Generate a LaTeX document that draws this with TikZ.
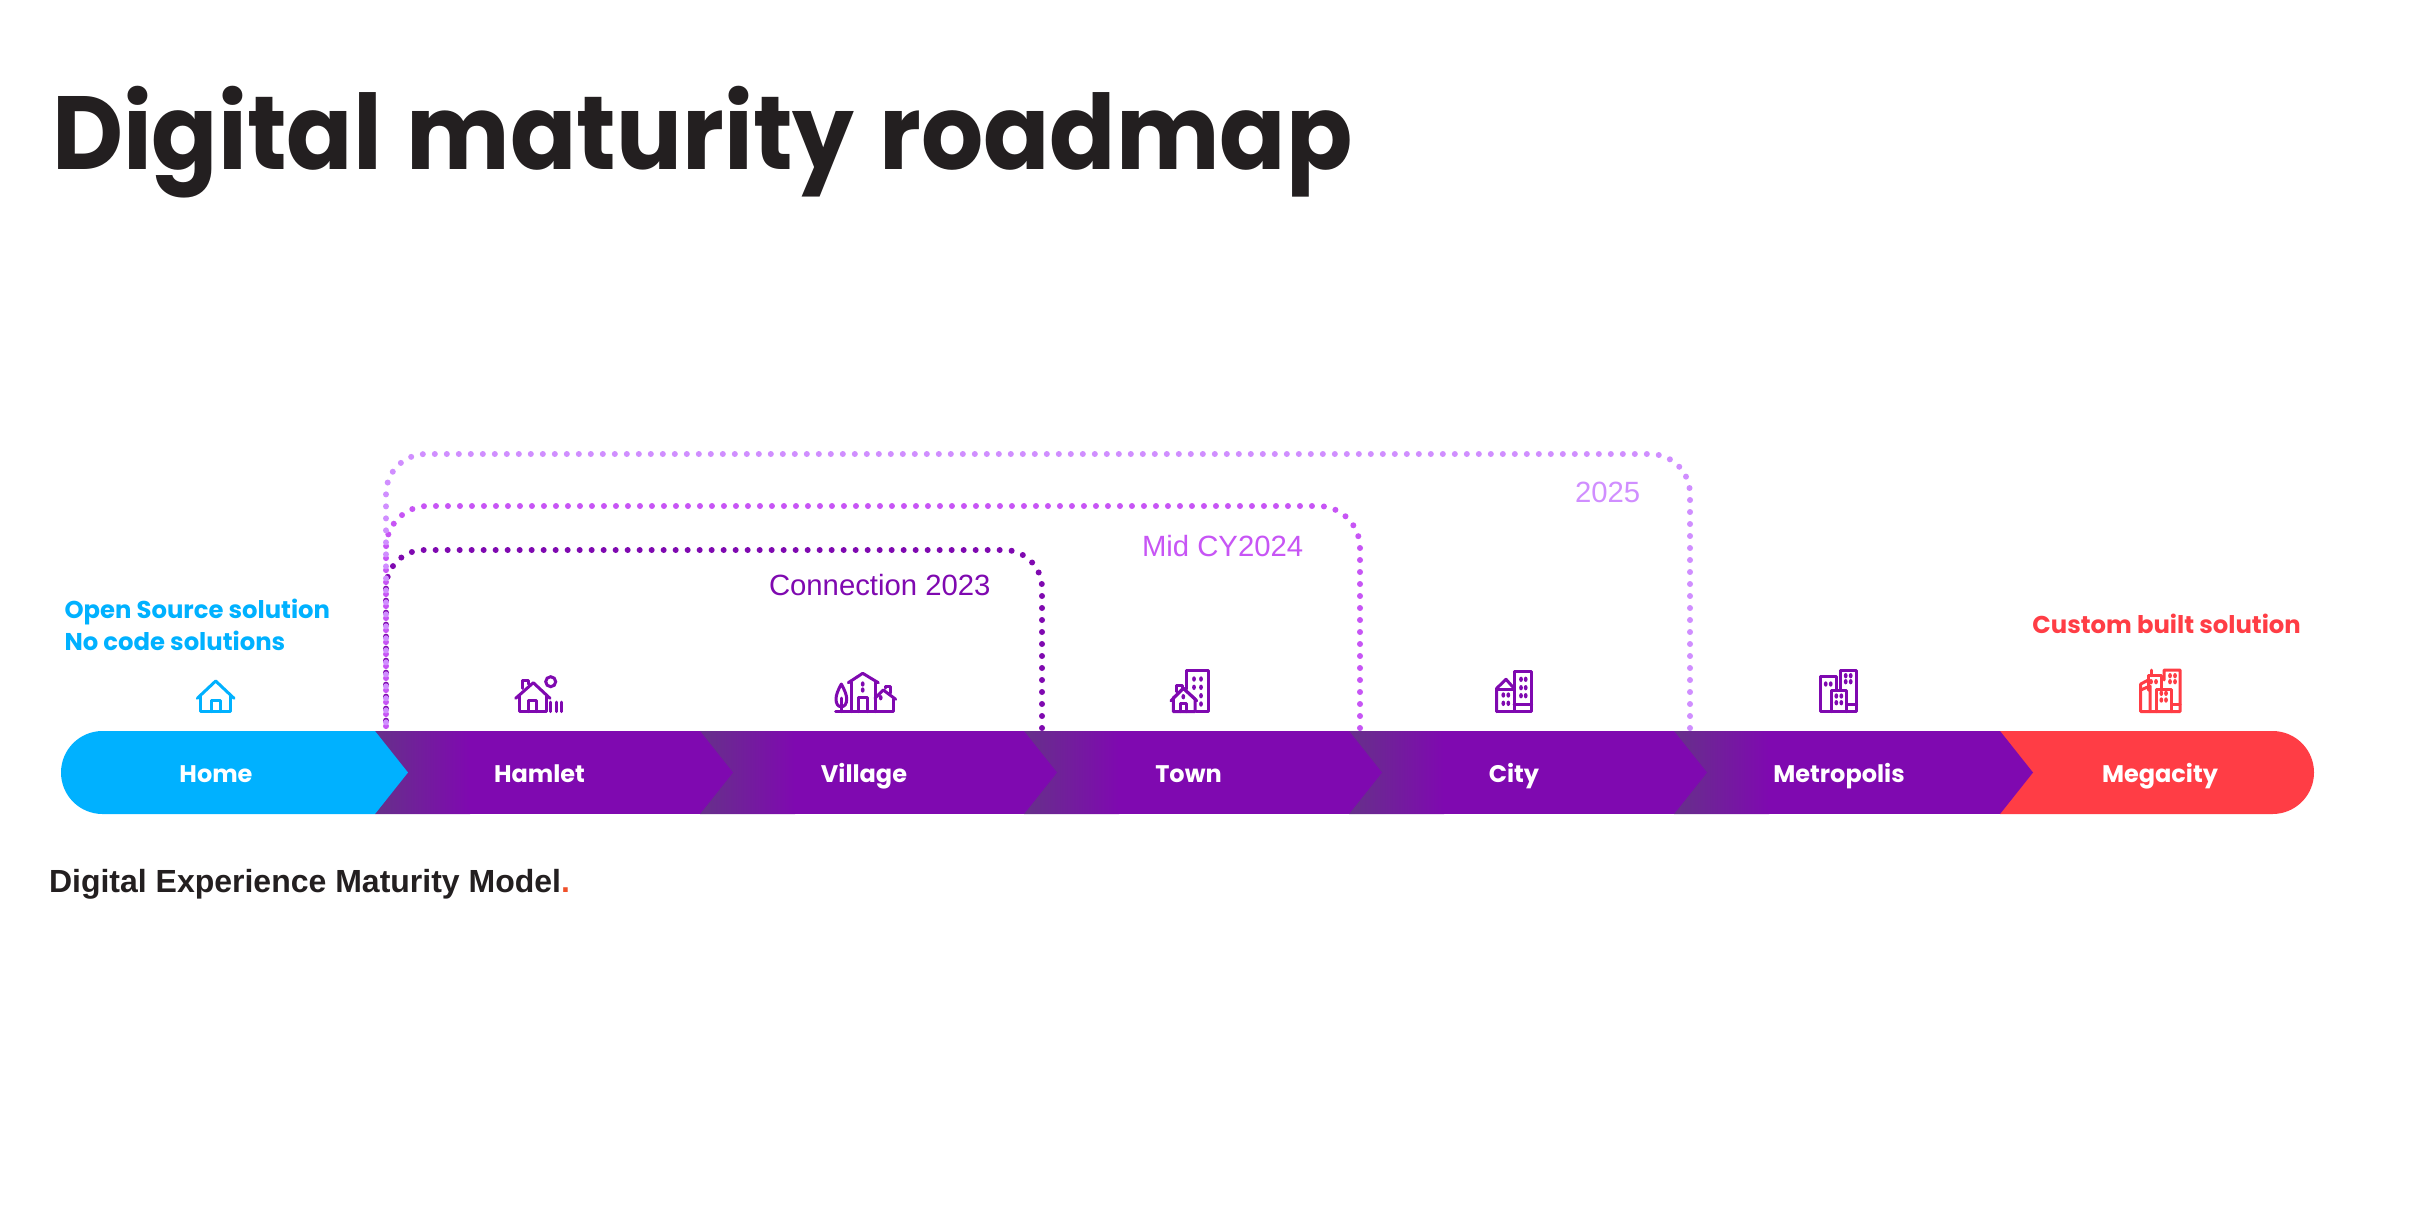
\documentclass[tikz,border=0pt]{standalone}
\usepackage{fontspec}
\setmainfont{Liberation Sans}
\newfontfamily\pop{Poppins}
\newfontfamily\popt[FakeStretch=0.94,WordSpace=1.2]{Poppins}
\definecolor{barpurple}{HTML}{7F09B0}
\definecolor{shadepurple}{HTML}{66308A}
\definecolor{homeblue}{HTML}{00B1FF}
\definecolor{megared}{HTML}{FF3D45}
\definecolor{midpurple}{HTML}{C755F5}
\definecolor{lightpurple}{HTML}{D08EFF}
\definecolor{inkdark}{HTML}{231F20}
\definecolor{dotorange}{HTML}{F0502A}
\tikzset{
  txt/.style={inner sep=0pt,outer sep=0pt,anchor=base west},
  barlabel/.style={inner sep=0pt,outer sep=0pt,anchor=base,text=white,font=\pop\bfseries\fontsize{24}{27}\selectfont},
  sidelabel/.style={txt,font=\pop\bfseries\fontsize{24.3}{27}\selectfont},
  yearlabel/.style={txt,font=\fontsize{29.3}{32}\selectfont},
  dotted line/.style={line width=6pt,line cap=round,dash pattern=on 0pt off 12pt},
  icon/.style={line width=3pt,line join=round,line cap=round,fill=white},
  iconline/.style={line width=3pt,line join=round,line cap=round},
}
\newcommand{\seg}[3]{% start, next, colour
  \begin{scope}
    \clip (#1,731) -- (#2,731) -- ($(#2,731)+(33,41.5)$) -- (#2,814) -- (#1,814) -- cycle;
    \fill[barpurple] (#1,731) rectangle (#2+40,814);
    \shade[left color=shadepurple,right color=barpurple,shading angle=90] (#1,731) rectangle (#1+95,814);
  \end{scope}}
\newcommand{\win}[3]{\fill[#3] (#1,#2) ellipse [x radius=1.9pt,y radius=2.7pt];}
\usetikzlibrary{calc}
\begin{document}
\begin{tikzpicture}[x=1pt,y=-1pt]
\useasboundingbox[fill=white] (0,0) rectangle (2417,1216);

% title
\node[txt,text=inkdark,font=\popt\bfseries\fontsize{104}{110}\selectfont] (title) at (52,169) {Digital maturity roadmap};

% bar, right to left so that each tip lies over the next segment
\fill[megared] (2000,731) -- (2272.5,731) arc[start angle=-90,end angle=90,radius=41.5] -- (2000,814) -- cycle;
\seg{1674}{2000}{}
\seg{1349}{1674}{}
\seg{1024}{1349}{}
\seg{700}{1024}{}
\seg{375}{700}{}
\fill[homeblue] (375,731) -- (408,772.5) -- (375,814) -- (102.5,814) arc[start angle=90,end angle=270,radius=41.5] -- cycle;

% bar labels
\node[barlabel] (home) at (216,782.7) {Home};
\node[barlabel] (hamlet) at (539.5,782.7) {Hamlet};
\node[barlabel] (village) at (864,782.7) {Village};
\node[barlabel] (town) at (1188.5,782.7) {Town};
\node[barlabel] (city) at (1514,782.7) {City};
\node[barlabel] (metropolis) at (1839,782.7) {Metropolis};
\node[barlabel] (megacity) at (2160,782.7) {Megacity};

% dotted brackets
\coordinate (a0) at (386,728);
\coordinate (a1) at (1042,728);
\coordinate (b1) at (1360,728);
\coordinate (c1) at (1690,728);
\draw[dotted line,barpurple,rounded corners=38pt] (a1) -- (1042,550) -- (386,550) -- (a0);
\draw[dotted line,midpurple,rounded corners=42pt] (b1) -- (1360,506) -- (386,506) -- (a0);
\draw[dotted line,lightpurple,rounded corners=40pt] (c1) -- (1690,454) -- (386,454) -- (a0);

\node[yearlabel,text=barpurple] (y23) at (769,595) {Connection 2023};
\node[yearlabel,text=midpurple] (y24) at (1142,556.7) {Mid CY2024};
\node[yearlabel,text=lightpurple] (y25) at (1575,502.7) {2025};

% side labels
\node[sidelabel,text=homeblue] (open) at (64.5,618) {Open Source solution};
\node[sidelabel,text=homeblue] (nocode) at (64.5,650) {No code solutions};
\node[sidelabel,text=megared] (custom) at (2032.4,633.5) {Custom built solution};
\node[txt,text=inkdark,font=\bfseries\fontsize{32}{36}\selectfont] (model) at (49,892.7) {Digital Experience Maturity Model\textcolor{dotorange}{.}};

% home icon
\begin{scope}[homeblue]
\draw[iconline] (197.3,698.3) -- (215.7,681) -- (234,698.3);
\draw[iconline] (200.7,696) -- (200.7,711.7) -- (230.7,711.7) -- (230.7,696);
\draw[iconline] (211,711.7) -- (211,700) -- (220.3,700) -- (220.3,711.7);
\end{scope}

% hamlet icon
\begin{scope}[barpurple]
\draw[iconline] (522.7,688.3) -- (522.7,680.7) -- (528.3,680.7) -- (528.3,684);
\draw[iconline] (515.7,698.3) -- (533.3,682.7) -- (550,698.3);
\draw[iconline] (519,695) -- (519,711.7) -- (546,711.7) -- (546,695);
\draw[iconline] (528.3,711.7) -- (528.3,700.7) -- (536.7,700.7) -- (536.7,711.7);
\draw[line width=3pt] (550.7,681.7) circle[radius=5];
\draw[iconline] (550.7,702) -- (550.7,711.7) (556,702) -- (556,711.7) (561.7,702) -- (561.7,711.7);
\end{scope}

% village icon
\begin{scope}[barpurple]
\draw[iconline] (841.3,684) .. controls (838,690) and (836,695) .. (836,699) .. controls (836,704) and (838,706.7) .. (841.3,706.7) .. controls (844.6,706.7) and (846.7,704) .. (846.7,699) .. controls (846.7,695) and (844.6,690) .. (841.3,684) -- cycle;
\draw[iconline] (841.3,698) -- (841.3,711.7);
\draw[iconline] (835.7,711.7) -- (893.3,711.7) -- (893.3,699);
\draw[iconline] (848.3,682.7) -- (862.7,673.3) -- (878.3,682.7);
\draw[iconline] (851.7,682) -- (851.7,711.7) (875,682) -- (875,711.7);
\draw[iconline] (875,698.3) -- (883.3,690) -- (895.7,699.3);
\draw[iconline] (885,688) -- (885,686) -- (890,686) -- (890,693);
\draw[iconline] (858.3,711.7) -- (858.3,697.3) -- (867.7,697.3) -- (867.7,711.7);
\win{862.7}{684}{barpurple}\win{862.7}{690}{barpurple}\win{880.7}{697.7}{barpurple}
\end{scope}

% town icon
\begin{scope}[barpurple]
\draw[iconline] (1186.7,689) -- (1186.7,670) -- (1208.3,670) -- (1208.3,711.7) -- (1196,711.7);
\win{1194}{679}{barpurple}\win{1201}{679}{barpurple}\win{1194}{687.3}{barpurple}\win{1201}{687.3}{barpurple}\win{1201}{695.7}{barpurple}\win{1201}{704}{barpurple}
\draw[iconline] (1176.7,691.7) -- (1176.7,685) -- (1182.3,685) -- (1182.3,689.3);
\draw[icon] (1173.3,698) -- (1183.3,688.3) -- (1195,699) -- (1195,711.7) -- (1173.3,711.7) -- cycle;
\draw[iconline] (1171,700.7) -- (1183.3,688.3) -- (1196.7,700.7);
\draw[iconline] (1180.7,711.7) -- (1180.7,703.3) -- (1186,703.3) -- (1186,711.7);
\win{1183.3}{696.7}{barpurple}
\end{scope}

% city icon
\begin{scope}[barpurple]
\draw[iconline] (1514,671) rectangle (1531.7,711.7);
\draw[iconline] (1514,704.3) -- (1531.7,704.3);
\draw[iconline] (1496.7,711.7) -- (1496.7,688.3) -- (1506,679.3) -- (1514,688.3);
\draw[iconline] (1496.7,689.3) -- (1514,689.3);
\draw[iconline] (1496.7,711.7) -- (1514,711.7);
\win{1521}{679.3}{barpurple}\win{1525.7}{679.3}{barpurple}\win{1521}{687.7}{barpurple}\win{1525.7}{687.7}{barpurple}\win{1521}{695.7}{barpurple}\win{1525.7}{695.7}{barpurple}
\win{1503.3}{695}{barpurple}\win{1508.3}{695}{barpurple}\win{1503.3}{703.3}{barpurple}\win{1508.3}{703.3}{barpurple}
\end{scope}

% metropolis icon
\begin{scope}[barpurple]
\draw[iconline] (1840,690) -- (1840,670) -- (1856.7,670) -- (1856.7,711.7) -- (1820,711.7) -- (1820,676.7) -- (1836,676.7) -- (1836,690);
\draw[iconline] (1831,711.7) -- (1831,690) -- (1846.7,690) -- (1846.7,711.7);
\draw[iconline] (1846.7,704.3) -- (1856.7,704.3);
\win{1845.7}{675.7}{barpurple}\win{1850.7}{675.7}{barpurple}\win{1845.7}{681.7}{barpurple}\win{1850.7}{681.7}{barpurple}
\win{1825.7}{684}{barpurple}\win{1830.7}{684}{barpurple}
\win{1836.3}{696}{barpurple}\win{1841.3}{696}{barpurple}\win{1836.3}{702.7}{barpurple}\win{1841.3}{702.7}{barpurple}
\end{scope}

% megacity icon
\begin{scope}[megared]
\draw[iconline] (2164,680) -- (2164,670) -- (2180,670) -- (2180,711.7) -- (2140.7,711.7) -- (2140.7,684) -- (2148.3,680);
\draw[iconline] (2151,670) -- (2151,675.7);
\draw[iconline] (2148.3,690) -- (2148.3,675.7) -- (2161,675.7) -- (2161,689.3);
\draw[iconline] (2140.7,690) -- (2150,686) -- (2150,711.7);
\draw[iconline] (2156,711.7) -- (2156,689.3) -- (2171.7,689.3) -- (2171.7,711.7);
\draw[iconline] (2171.7,704.3) -- (2180,704.3);
\win{2170}{675.7}{megared}\win{2175}{675.7}{megared}\win{2170}{681.7}{megared}\win{2175}{681.7}{megared}
\win{2151}{681.7}{megared}\win{2156}{681.7}{megared}
\win{2161.3}{693.3}{megared}\win{2166}{693.3}{megared}\win{2161.3}{700}{megared}\win{2166}{700}{megared}
\end{scope}
\end{tikzpicture}
\end{document}
